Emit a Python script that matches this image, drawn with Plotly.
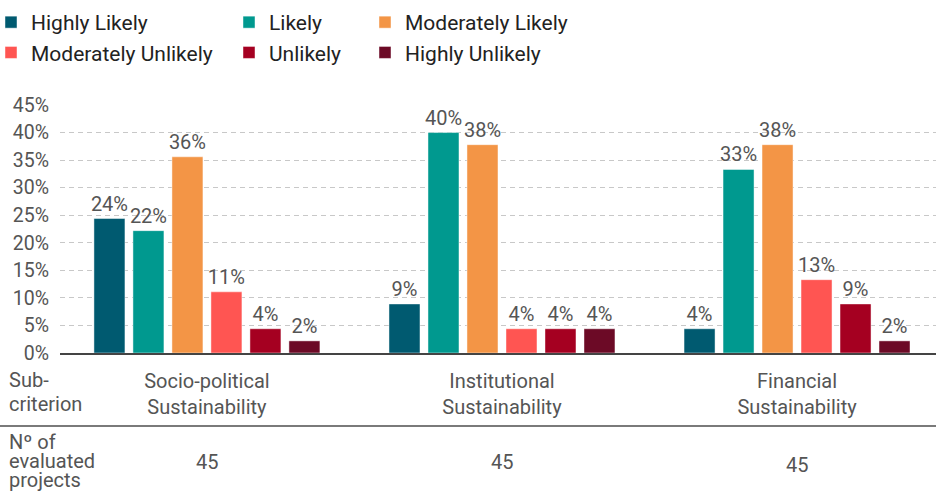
import plotly.graph_objects as go

# Sub-criteria along the x axis and number of evaluated projects for each
categories = ["Socio-political<br>Sustainability", "Institutional<br>Sustainability", "Financial<br>Sustainability"]
projects = [45, 45, 45]

# Share of projects per sustainability rating (fractions of the 45 projects)
ratings = ["Highly Likely", "Likely", "Moderately Likely",
           "Moderately Unlikely", "Unlikely", "Highly Unlikely"]
highly_likely = [0.244, 0.089, 0.044]
likely = [0.222, 0.400, 0.333]
moderately_likely = [0.356, 0.378, 0.378]
moderately_unlikely = [0.111, 0.044, 0.133]
unlikely = [0.044, 0.044, 0.089]
highly_unlikely = [0.022, 0.044, 0.022]
series = [highly_likely, likely, moderately_likely,
          moderately_unlikely, unlikely, highly_unlikely]

colors = ["#005a70", "#00998f", "#f39546", "#ff5552", "#a50021", "#6c0a26"]

W, H = 936, 494
L, R, T, B = 60, 936, 105, 353
FONT = "Roboto"
GREY = "#555555"


def px_x(x):
    return (x - L) / (R - L)


def px_y(y):
    return (B - y) / (B - T)


fig = go.Figure()
legend_cols = ["legend", "legend2", "legend3"]
for i, (name, vals, col) in enumerate(zip(ratings, series, colors)):
    fig.add_trace(go.Bar(
        x=categories, y=vals, name=name,
        marker=dict(color=col, line=dict(color="rgba(255,255,255,0.45)", width=1)),
        texttemplate="%{y:.0%}", textposition="outside",
        textfont=dict(family=FONT, size=20, color=GREY),
        constraintext="none", cliponaxis=False,
        legend=legend_cols[i % 3], legendgroup=name,
        hovertemplate="%{x}<br>" + name + ": %{y:.1%}<extra></extra>",
    ))


def legend_at(xpix):
    return dict(
        xref="paper", yref="container", x=px_x(xpix), y=1 - 2 / H,
        xanchor="left", yanchor="top", orientation="v",
        traceorder="grouped", tracegroupgap=0, itemwidth=30,
        font=dict(family=FONT, size=21, color="#222222"),
        bgcolor="rgba(0,0,0,0)",
    )


def row_label(text, ycenter):
    return dict(text=text, xref="paper", yref="paper",
                x=px_x(7), y=px_y(ycenter), xanchor="left", yanchor="middle",
                align="left", showarrow=False,
                font=dict(family=FONT, size=20, color=GREY))


annotations = [row_label("Sub-", 380), row_label("criterion", 404)]
# tightly spaced three-line row header
for line, ycenter in zip(["Nº of", "evaluated", "projects"], [442, 461, 480]):
    annotations.append(row_label(line, ycenter))
for cat, n, ypix in zip(categories, projects, [462, 462, 465]):
    annotations.append(dict(
        text=str(n), xref="x", yref="paper", x=cat, y=px_y(ypix),
        xanchor="center", yanchor="middle", showarrow=False,
        font=dict(family=FONT, size=20, color=GREY)))

fig.update_layout(
    width=W, height=H,
    margin=dict(l=L, r=W - R, t=T, b=H - B, autoexpand=False),
    paper_bgcolor="white", plot_bgcolor="white",
    barmode="group", bargap=0.207, bargroupgap=0.205,
    font=dict(family=FONT, color=GREY),
    legend=legend_at(-9),
    legend2=legend_at(229),
    legend3=legend_at(365),
    annotations=annotations,
    shapes=[dict(type="line", xref="paper", yref="paper",
                 x0=px_x(0), x1=px_x(W), y0=px_y(426), y1=px_y(426),
                 line=dict(color="#7a7a7a", width=2))],
)
fig.update_yaxes(
    range=[0, 0.45], dtick=0.05, tickformat=".0%",
    showgrid=True, gridcolor="#c8c8c8", gridwidth=1, griddash="5px,4px",
    zeroline=False, showline=False, ticks="", ticklabelstandoff=10,
    tickfont=dict(family=FONT, size=19.5, color=GREY),
)
fig.update_xaxes(
    range=[-0.498, 2.471],
    showline=True, linecolor="#444444", linewidth=2, ticks="",
    showgrid=False, ticklabelstandoff=9,
    tickfont=dict(family=FONT, size=20, color=GREY),
)

fig.write_html("out.html")
